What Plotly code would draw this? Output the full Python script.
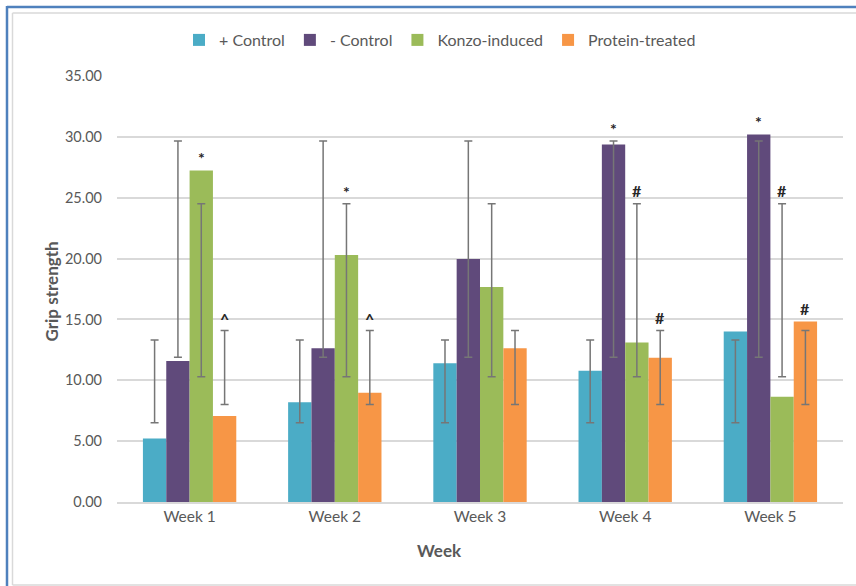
import plotly.graph_objects as go

# Grip strength per group over five weeks
weeks = ["Week 1", "Week 2", "Week 3", "Week 4", "Week 5"]
series_names = ["+ Control", "- Control", "Konzo-induced", "Protein-treated"]

pos_control = [5.22, 8.19, 11.40, 10.79, 14.00]
neg_control = [11.59, 12.64, 19.97, 29.38, 30.20]
konzo = [27.24, 20.30, 17.66, 13.10, 8.65]
protein = [7.06, 8.98, 12.64, 11.86, 14.83]

# Error bar limits (lower, upper) for each group
pos_control_low = [6.51, 6.51, 6.51, 6.51, 6.51]
pos_control_high = [13.32, 13.32, 13.32, 13.32, 13.32]
neg_control_low = [11.89, 11.89, 11.89, 11.89, 11.89]
neg_control_high = [29.65, 29.65, 29.65, 29.65, 29.65]
konzo_low = [10.30, 10.30, 10.30, 10.30, 10.30]
konzo_high = [24.50, 24.50, 24.50, 24.50, 24.50]
protein_low = [8.02, 8.02, 8.02, 8.02, 8.02]
protein_high = [14.09, 14.09, 14.09, 14.09, 14.09]

# Significance markers: (week index, group index, symbol)
marks = [
    (0, 2, "*"), (0, 3, "^"),
    (1, 2, "*"), (1, 3, "^"),
    (3, 1, "*"), (3, 2, "#"), (3, 3, "#"),
    (4, 1, "*"), (4, 2, "#"), (4, 3, "#"),
]

colors = ["#4BACC6", "#604A7B", "#9BBB59", "#F79646"]
values = [pos_control, neg_control, konzo, protein]
lows = [pos_control_low, neg_control_low, konzo_low, protein_low]
highs = [pos_control_high, neg_control_high, konzo_high, protein_high]

FONT = "Lato"
TEXT = "#595959"
W, H = 856, 586
ML, MR, MT, MB = 117, 13, 76, 84
BARGAP = 0.357

fig = go.Figure()
for name, col, v, lo, hi in zip(series_names, colors, values, lows, highs):
    fig.add_trace(go.Bar(
        x=weeks, y=v, name=name,
        marker=dict(color=col, line=dict(width=0)),
        error_y=dict(
            type="data", symmetric=False,
            array=[h - y for h, y in zip(hi, v)],
            arrayminus=[y - l for l, y in zip(lo, v)],
            color="#767676", thickness=1.5, width=4,
        ),
    ))

# Annotations above each marked bar
bw = (1 - BARGAP) / len(series_names)
annotations = []
for wk, g, sym in marks:
    top = max(values[g][wk], highs[g][wk])
    annotations.append(dict(
        x=wk + (g - 1.5) * bw, y=top, xref="x", yref="y",
        text=sym, showarrow=False, yanchor="bottom",
        yshift=1 if sym != "#" else 2,
        font=dict(family=FONT, size=16, color="#262626", weight="bold"),
    ))

pw = W - ML - MR
ph = H - MT - MB


def px(x):
    return (x - ML) / pw


def py(y):
    return (H - MB - y) / ph


annotations.append(dict(
    x=px(439), y=py(563), xref="paper", yref="paper", text="<b>Week</b>",
    showarrow=False, font=dict(family=FONT, size=17, color=TEXT),
))
annotations.append(dict(
    x=px(38), y=py(292), xref="paper", yref="paper", text="<b>Grip strength</b>",
    textangle=-90, showarrow=False, font=dict(family=FONT, size=17, color=TEXT),
))

shapes = [
    # outer frame
    dict(type="line", xref="paper", yref="paper", x0=px(7), x1=px(W + 2), y0=py(7), y1=py(7),
         line=dict(color="#4F81BD", width=2.5)),
    dict(type="line", xref="paper", yref="paper", x0=px(7), x1=px(7), y0=py(6), y1=py(H + 2),
         line=dict(color="#4F81BD", width=2.5)),
    dict(type="line", xref="paper", yref="paper", x0=px(12.5), x1=px(W + 2), y0=py(13), y1=py(13),
         line=dict(color="#D9D9D9", width=1.5)),
    dict(type="line", xref="paper", yref="paper", x0=px(12.5), x1=px(12.5), y0=py(13), y1=py(585),
         line=dict(color="#D9D9D9", width=1.5)),
    dict(type="line", xref="paper", yref="paper", x0=px(12.5), x1=px(W + 2), y0=py(585), y1=py(585),
         line=dict(color="#D9D9D9", width=1.5)),
]

fig.update_layout(
    width=W, height=H,
    margin=dict(l=ML, r=MR, t=MT, b=MB),
    paper_bgcolor="white", plot_bgcolor="white",
    barmode="group", bargap=BARGAP, bargroupgap=0,
    font=dict(family=FONT, color=TEXT),
    legend=dict(
        orientation="h", x=px(440), xanchor="center", y=py(40), yanchor="middle",
        font=dict(family=FONT, size=16, color=TEXT),
        itemwidth=30, tracegroupgap=0,
    ),
    xaxis=dict(
        showgrid=False, showline=True, linecolor="#D9D9D9", linewidth=1.5,
        ticks="", tickfont=dict(family=FONT, size=15.5, color=TEXT),
    ),
    yaxis=dict(
        range=[0, 35], tickvals=[0, 5, 10, 15, 20, 25, 30, 35], tickformat=".2f",
        showgrid=True, gridcolor="#D9D9D9", gridwidth=1.5, zeroline=False,
        showline=False, ticks="", ticklabelstandoff=14,
        tickfont=dict(family=FONT, size=14.5, color=TEXT),
    ),
    annotations=annotations,
    shapes=shapes,
    showlegend=True,
)

fig.write_html("out.html")
